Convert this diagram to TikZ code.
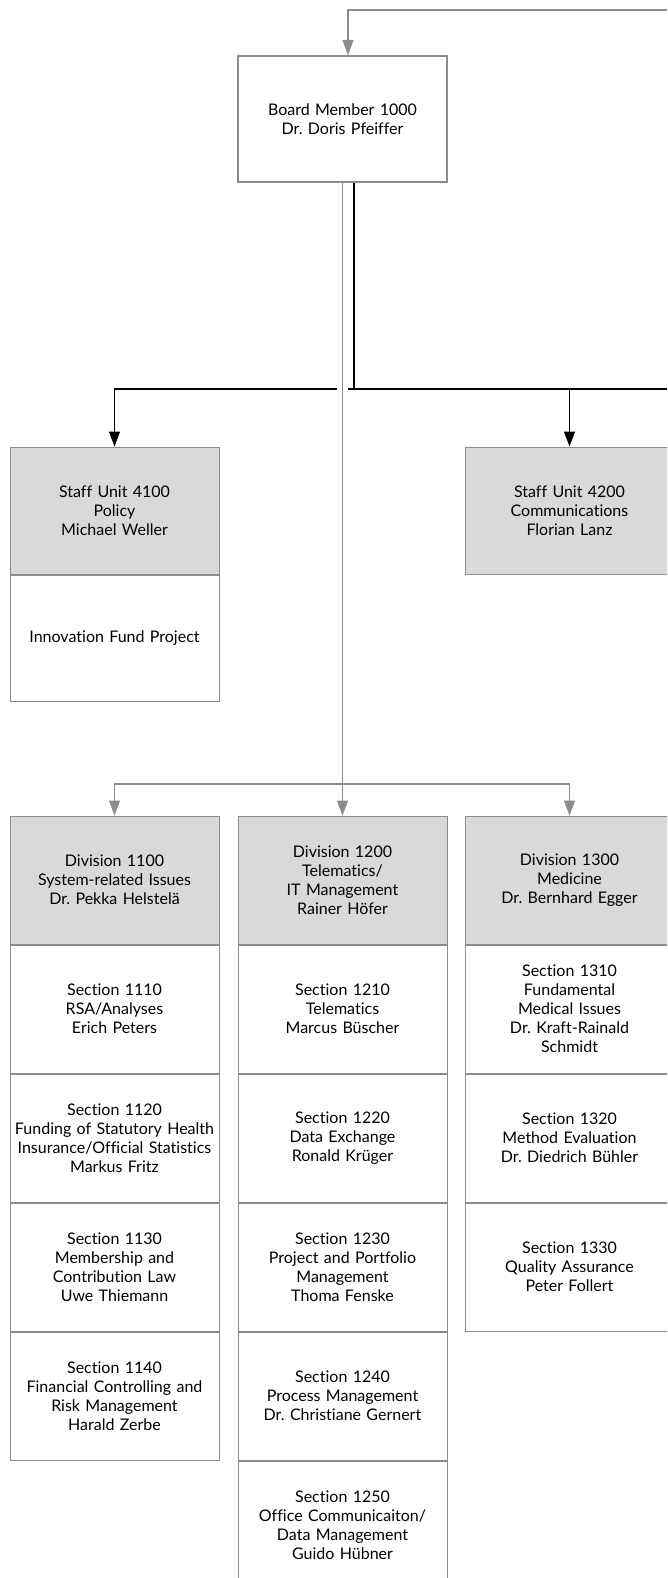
\documentclass[tikz,border=0pt]{standalone}
\usepackage{fontspec}
\setmainfont{Lato}[Ligatures=NoCommon]
\frenchspacing
\usetikzlibrary{positioning, arrows.meta}
\definecolor{boxgray}{HTML}{8C8C8C}
\definecolor{headfill}{HTML}{D9D9D9}
\definecolor{linegray}{HTML}{8C8C8C}

\tikzset{
  unit/.style={draw=boxgray, line width=1pt, minimum width=209pt, minimum height=128pt,
    inner sep=0pt, text width=205pt, align=center, font=\fontsize{16}{19}\selectfont},
  headbox/.style={unit, fill=headfill},
  secbox/.style={unit, fill=white},
  boardbox/.style={unit, line width=2pt, minimum height=126pt},
  grayline/.style={draw=linegray, line width=1.2pt, -{Triangle[width=11pt,length=15pt]}},
  staffline/.style={draw=black, line width=1.1pt, -{Triangle[width=11pt,length=15pt]}},
}

\begin{document}
\begin{tikzpicture}[x=1pt, y=-1pt]
  \clip (0,0) rectangle (667,1578);
  % board
  \node[boardbox] (board) at (342.5,119) {Board Member 1000\\Dr. Doris Pfeiffer};
  % staff units
  \node[headbox, minimum height=127pt] (s4100) at (114.5,510.5) {Staff Unit 4100\\Policy\\Michael Weller};
  \node[secbox, minimum height=126pt, below=0pt of s4100] (inno) {Innovation Fund Project};
  \node[headbox, minimum height=127pt] (s4200) at (569.5,510.5) {Staff Unit 4200\\Communications\\Florian Lanz};
  % divisions
  \node[headbox] (d1100) at (114.5,880) {Division 1100\\System-related Issues\\Dr. Pekka Helstelä};
  \node[headbox] (d1200) at (342.5,880) {Division 1200\\Telematics/\\IT Management\\Rainer Höfer};
  \node[headbox] (d1300) at (569.5,880) {Division 1300\\Medicine\\Dr. Bernhard Egger};
  % sections 1100
  \node[secbox, below=0pt of d1100] (s1110) {Section 1110\\RSA/Analyses\\Erich Peters};
  \node[secbox, below=0pt of s1110] (s1120) {Section 1120\\Funding of Statutory Health\\Insurance/Official Statistics\\Markus Fritz};
  \node[secbox, below=0pt of s1120] (s1130) {Section 1130\\Membership and\\Contribution Law\\Uwe Thiemann};
  \node[secbox, below=0pt of s1130] (s1140) {Section 1140\\Financial Controlling and\\Risk Management\\Harald Zerbe};
  % sections 1200
  \node[secbox, below=0pt of d1200] (s1210) {Section 1210\\Telematics\\Marcus Büscher};
  \node[secbox, below=0pt of s1210] (s1220) {Section 1220\\Data Exchange\\Ronald Krüger};
  \node[secbox, below=0pt of s1220] (s1230) {Section 1230\\Project and Portfolio\\Management\\Thoma Fenske};
  \node[secbox, below=0pt of s1230] (s1240) {Section 1240\\Process Management\\Dr. Christiane Gernert};
  \node[secbox, below=0pt of s1240] (s1250) {Section 1250\\Office Communicaiton/\\Data Management\\Guido Hübner};
  % sections 1300
  \node[secbox, below=0pt of d1300] (s1310) {Section 1310\\Fundamental\\Medical Issues\\Dr. Kraft-Rainald\\Schmidt};
  \node[secbox, below=0pt of s1310] (s1320) {Section 1320\\Method Evaluation\\Dr. Diedrich Bühler};
  \node[secbox, below=0pt of s1320] (s1330) {Section 1330\\Quality Assurance\\Peter Follert};

  % connectors
  \coordinate (topin) at (667,10);
  \coordinate (bl) at ([xshift=11.5pt]board.south);
  \coordinate (jstaff) at (354,389);
  \coordinate (staffout) at (667,389);
  \coordinate (jdiv) at (342.5,784);
  \draw[grayline] (topin) -| ([xshift=5.5pt]board.north);
  \draw[staffline] (bl) -- (jstaff) -| (s4100.north);
  \draw[staffline, -] (jstaff) -- (staffout);
  \draw[staffline] (jstaff) -| (s4200.north);
  \coordinate (xcross) at (board.south |- jstaff);
  \draw[white, line width=3pt] ([xshift=-5.5pt]xcross) -- ([xshift=5.5pt]xcross);
  \draw[grayline] (board.south) -- (d1200.north);
  \draw[grayline] (jdiv) -| (d1100.north);
  \draw[grayline] (jdiv) -| (d1300.north);
\end{tikzpicture}
\end{document}
